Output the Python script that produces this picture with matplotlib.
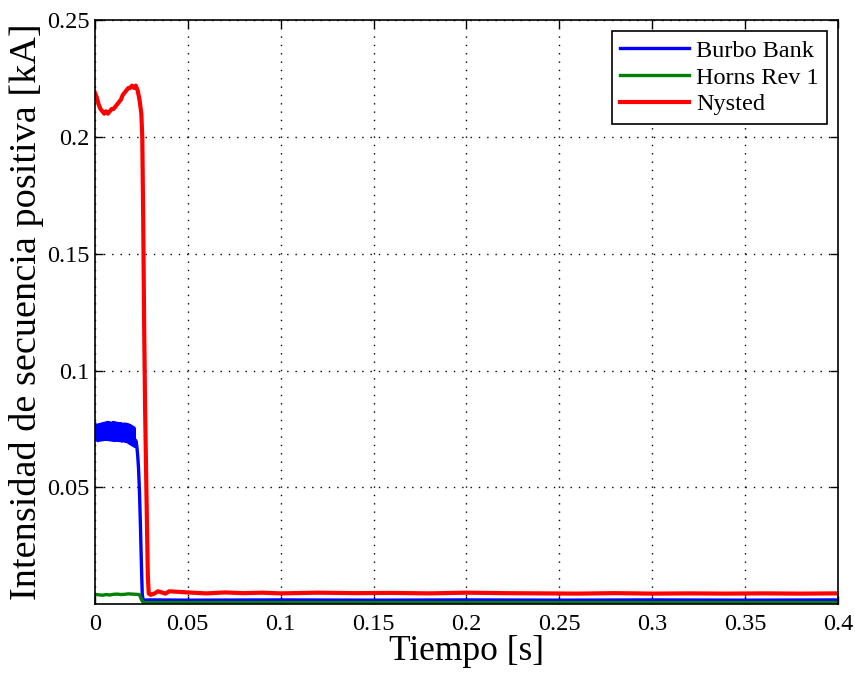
import numpy as np
import matplotlib.pyplot as plt

plt.rcParams['font.family'] = ['Liberation Serif', 'DejaVu Serif']

# tiempos en ms, luego se pasan a s
t_blue = [0, 0.5, 1, 1.5, 2, 2.5, 3, 3.5, 4, 4.5, 5, 5.5, 6, 6.5, 7, 7.5, 8, 8.5, 9, 9.5,
          10, 10.5, 11, 11.5, 12, 12.5, 13, 13.5, 14, 14.5, 15, 15.5, 16, 16.5, 17, 17.5,
          18, 18.5, 19, 19.5, 20, 20.5, 21, 21.5, 22,
          22.5, 23, 23.5, 24, 24.5, 25, 25.5, 26, 30, 50, 100, 150, 200, 250, 300, 350, 400]
blue = [0.0770, 0.0705, 0.0765, 0.0700, 0.0768, 0.0702, 0.0770, 0.0703, 0.0772, 0.0704,
        0.0774, 0.0706, 0.0776, 0.0705, 0.0778, 0.0704, 0.0776, 0.0703, 0.0775, 0.0702,
        0.0778, 0.0701, 0.0776, 0.0702, 0.0774, 0.0701, 0.0772, 0.0700, 0.0773, 0.0698,
        0.0770, 0.0699, 0.0771, 0.0697, 0.0770, 0.0695, 0.0768, 0.0690, 0.0765, 0.0685,
        0.0760, 0.0680, 0.0755, 0.0675, 0.0700,
        0.0680, 0.0640, 0.0580, 0.0480, 0.0340, 0.0180, 0.0040, 0.0017, 0.0018, 0.0017,
        0.0018, 0.0017, 0.0018, 0.0017, 0.0018, 0.0017, 0.0018]

t_green = [0, 2, 4, 6, 8, 10, 12, 14, 16, 18, 20, 22, 24, 25, 26, 50, 100, 200, 300, 400]
green = [0.0042, 0.0040, 0.0038, 0.0041, 0.0039, 0.0042, 0.0043, 0.0041, 0.0042, 0.0044,
         0.0043, 0.0042, 0.0041, 0.0020, 0.0007, 0.0007, 0.0007, 0.0007, 0.0007, 0.0007]

t_red = [0, 1, 2, 3, 4, 5, 6, 7, 8, 9, 10, 11, 12, 13, 14, 15, 16, 17, 18, 19, 20, 21, 22, 23, 24,
         25, 25.5, 26, 26.5, 27, 27.5, 28, 28.5, 29, 30, 32, 34, 36, 38, 40,
         50, 60, 70, 80, 90, 100, 120, 140, 160, 180, 200, 220, 240, 260, 280, 300, 320, 340,
         360, 380, 400]
red = [0.2190, 0.2170, 0.2140, 0.2120, 0.2110, 0.2100, 0.2110, 0.2100, 0.2110, 0.2120,
       0.2120, 0.2130, 0.2140, 0.2150, 0.2160, 0.2180, 0.2190, 0.2200, 0.2210, 0.2210,
       0.2220, 0.2210, 0.2220, 0.2200, 0.2160,
       0.2100, 0.2000, 0.1650, 0.1200, 0.0850, 0.0600, 0.0350, 0.0120, 0.0045, 0.0040,
       0.0045, 0.0055, 0.0050, 0.0045, 0.0055,
       0.0050, 0.0046, 0.0050, 0.0047, 0.0049, 0.0046, 0.0049, 0.0047, 0.0048, 0.0046,
       0.0049, 0.0047, 0.0046, 0.0045, 0.0047, 0.0045, 0.0046, 0.0045, 0.0046, 0.0045, 0.0046]

fig = plt.figure(figsize=(8.55, 6.75), dpi=100)
ax = fig.add_axes([0.111, 0.105, 0.869, 0.865])

ax.plot(np.array(t_blue) / 1000, blue, color='#0000ff', lw=2.4, label='Burbo Bank')
ax.plot(np.array(t_green) / 1000, green, color='#008000', lw=2.4, label='Horns Rev 1')
ax.plot(np.array(t_red) / 1000, red, color='#ff0000', lw=3.0, label='Nysted')

ax.set_xlim(0, 0.4)
ax.set_ylim(0, 0.25)
ax.set_xticks([0, 0.05, 0.1, 0.15, 0.2, 0.25, 0.3, 0.35, 0.4])
ax.set_xticklabels(['0', '0.05', '0.1', '0.15', '0.2', '0.25', '0.3', '0.35', '0.4'])
ax.set_yticks([0.05, 0.1, 0.15, 0.2, 0.25])
ax.set_yticklabels(['0.05', '0.1', '0.15', '0.2', '0.25'])
ax.tick_params(direction='in', top=True, right=True, labelsize=17.5, length=6, width=1)
ax.tick_params(axis='x', pad=7)
ax.tick_params(axis='y', pad=4)
ax.grid(True, color='black', linestyle=(0, (1, 5)), linewidth=1)
for s in ax.spines.values():
    s.set_linewidth(1.2)

ax.set_xlabel('Tiempo [s]', fontsize=25.5, labelpad=0)
ax.set_ylabel('Intensidad de secuencia positiva [kA]', fontsize=27.5, labelpad=2)

leg = ax.legend(loc='upper right', fontsize=17.5, fancybox=False, framealpha=1,
                edgecolor='black', handlelength=2.8, handletextpad=0.3,
                borderaxespad=0.45, labelspacing=0.2, borderpad=0.35)
leg.get_frame().set_linewidth(1.2)

fig.savefig('out.png', dpi=100)
